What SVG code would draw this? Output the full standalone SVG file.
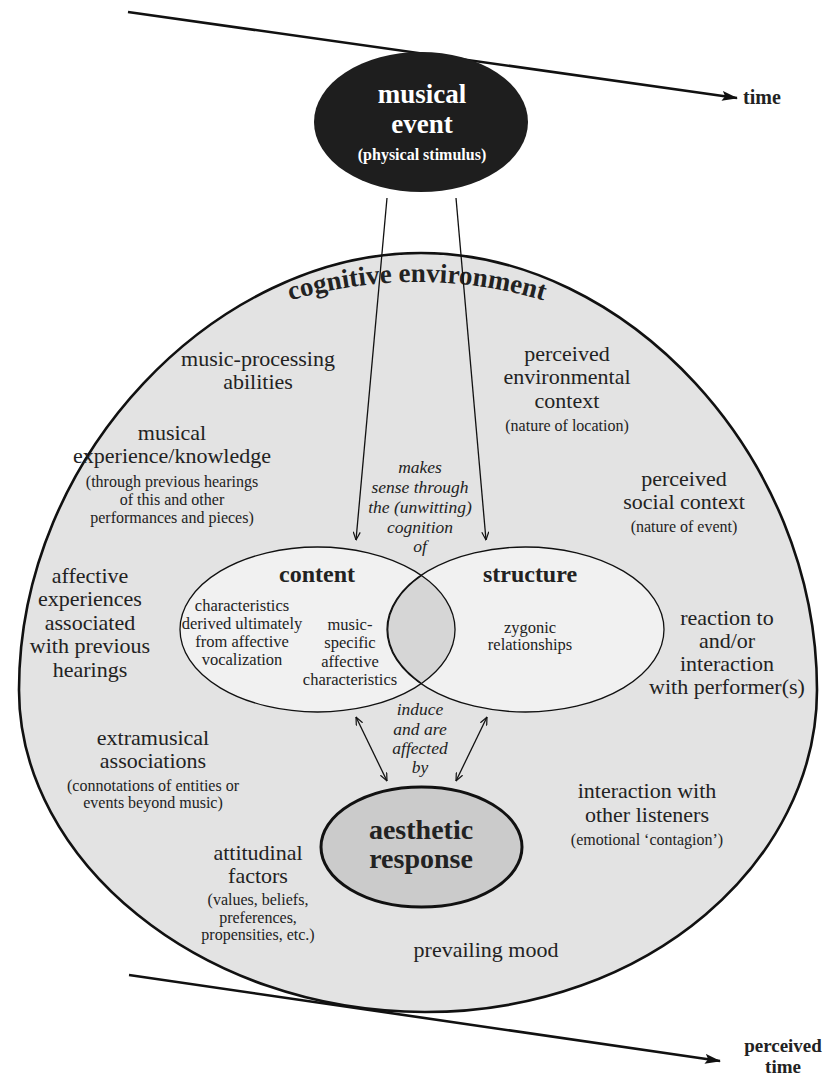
<svg xmlns="http://www.w3.org/2000/svg" width="831" height="1080" viewBox="0 0 831 1080">
<style>
  text { font-family: "Liberation Serif", "Times New Roman", serif; fill: #222; text-anchor: middle; }
  .lab { font-size: 22px; }
  .sub { font-size: 16px; }
  .it { font-size: 17.5px; font-style: italic; }
  .inner { font-size: 16.5px; }
  .b { font-weight: bold; }
  .thin { stroke: #111; stroke-width: 1.3; fill: none; }
  .thick { stroke: #111; stroke-width: 2.6; fill: none; }
</style>
<defs>
  <marker id="bigArrow" markerUnits="userSpaceOnUse" viewBox="0 0 16 10" refX="15" refY="5" markerWidth="16" markerHeight="10" orient="auto">
    <path d="M0,0 L16,5 L0,10 L3,5 Z" fill="#111"/>
  </marker>
  <marker id="smallArrow" markerUnits="userSpaceOnUse" viewBox="0 0 9 8" refX="8.5" refY="4" markerWidth="9" markerHeight="8" orient="auto-start-reverse">
    <path d="M0.5,0.5 L8.5,4 L0.5,7.5" fill="none" stroke="#111" stroke-width="1.2"/>
  </marker>
  <path id="arcPath" d="M134,385 A440,440 0 0 1 700,385"/>
</defs>

<g id="cognitive-environment">
  <path d="M421,253 C625,253 817,455 817,690 C817,860 650,1012 425,1012 C200,1012 19,860 19,690 C19,455 217,253 421,253 Z" fill="#e3e3e3" stroke="#111" stroke-width="2.6"/>
  <text class="b" font-size="27"><textPath href="#arcPath" startOffset="50%">cognitive environment</textPath></text>
</g>

<g id="timelines">
  <line class="thick" x1="128" y1="12" x2="737" y2="98" marker-end="url(#bigArrow)"/>
  <line class="thick" x1="129" y1="975" x2="720" y2="1061" marker-end="url(#bigArrow)"/>
  <text class="b" font-size="20" x="762" y="104">time</text>
  <text class="b" font-size="19" x="783" y="1052">perceived</text>
  <text class="b" font-size="19" x="783" y="1073">time</text>
</g>

<g id="musical-event">
  <ellipse cx="421" cy="122" rx="107" ry="70" fill="#1e1e1e"/>
  <text class="b" font-size="27" x="422" y="103" style="fill:#fff">musical</text>
  <text class="b" font-size="27" x="422" y="133" style="fill:#fff">event</text>
  <text class="b" font-size="16" x="422" y="160" style="fill:#fff">(physical stimulus)</text>
</g>

<g id="venn">
  <ellipse cx="317.5" cy="629.5" rx="137.5" ry="82.5" fill="#f1f1f1" stroke="#111" stroke-width="1.3"/>
  <ellipse cx="525.5" cy="629.5" rx="138.5" ry="82.5" fill="#f1f1f1" stroke="#111" stroke-width="1.3"/>
  <path d="M421.5,575.5 A137.5,82.5 0 0 1 421.5,683.5 A138.5,82.5 0 0 1 421.5,575.5 Z" fill="#d6d6d6" stroke="#111" stroke-width="1.3"/>
</g>

<g id="content">
  <text class="b" font-size="24" x="317" y="582">content</text>
  <text class="inner" x="242" y="611">characteristics</text>
  <text class="inner" x="242" y="629">derived ultimately</text>
  <text class="inner" x="242" y="647">from affective</text>
  <text class="inner" x="242" y="665">vocalization</text>
  <text class="inner" x="350" y="630">music-</text>
  <text class="inner" x="350" y="648">specific</text>
  <text class="inner" x="350" y="667">affective</text>
  <text class="inner" x="350" y="685">characteristics</text>
</g>

<g id="structure">
  <text class="b" font-size="24" x="530" y="582">structure</text>
  <text class="inner" x="530" y="633">zygonic</text>
  <text class="inner" x="530" y="650">relationships</text>
</g>

<g id="aesthetic-response">
  <ellipse cx="421.5" cy="847" rx="100.5" ry="60" fill="#cbcbcb" stroke="#111" stroke-width="3"/>
  <text class="b" font-size="28" x="421" y="839">aesthetic</text>
  <text class="b" font-size="28" x="421" y="868">response</text>
</g>

<g id="connectors">
  <line class="thin" x1="387" y1="198" x2="356" y2="540" marker-end="url(#smallArrow)"/>
  <line class="thin" x1="456" y1="198" x2="486" y2="540" marker-end="url(#smallArrow)"/>
  <line class="thin" x1="356" y1="717" x2="387" y2="781" marker-start="url(#smallArrow)" marker-end="url(#smallArrow)"/>
  <line class="thin" x1="487" y1="717" x2="456" y2="781" marker-start="url(#smallArrow)" marker-end="url(#smallArrow)"/>
</g>

<g id="connector-labels">
  <text class="it" x="420" y="473">makes</text>
  <text class="it" x="420" y="493">sense through</text>
  <text class="it" x="420" y="513">the (unwitting)</text>
  <text class="it" x="420" y="533">cognition</text>
  <text class="it" x="420" y="552">of</text>
  <text class="it" x="420" y="715">induce</text>
  <text class="it" x="420" y="735">and are</text>
  <text class="it" x="420" y="754">affected</text>
  <text class="it" x="420" y="773">by</text>
</g>

<g id="music-processing">
  <text class="lab" x="258" y="366">music-processing</text>
  <text class="lab" x="258" y="389">abilities</text>
</g>

<g id="musical-experience">
  <text class="lab" x="172" y="440">musical</text>
  <text class="lab" x="172" y="463">experience/knowledge</text>
  <text class="sub" x="172" y="487">(through previous hearings</text>
  <text class="sub" x="172" y="505">of this and other</text>
  <text class="sub" x="172" y="523">performances and pieces)</text>
</g>

<g id="affective-experiences">
  <text class="lab" x="90" y="583">affective</text>
  <text class="lab" x="90" y="606">experiences</text>
  <text class="lab" x="90" y="630">associated</text>
  <text class="lab" x="90" y="653">with previous</text>
  <text class="lab" x="90" y="677">hearings</text>
</g>

<g id="extramusical">
  <text class="lab" x="153" y="745">extramusical</text>
  <text class="lab" x="153" y="768">associations</text>
  <text class="sub" x="153" y="791">(connotations of entities or</text>
  <text class="sub" x="153" y="808">events beyond music)</text>
</g>

<g id="attitudinal">
  <text class="lab" x="258" y="860">attitudinal</text>
  <text class="lab" x="258" y="883">factors</text>
  <text class="sub" x="258" y="905">(values, beliefs,</text>
  <text class="sub" x="258" y="923">preferences,</text>
  <text class="sub" x="258" y="940">propensities, etc.)</text>
</g>

<g id="prevailing-mood">
  <text class="lab" x="486" y="957">prevailing mood</text>
</g>

<g id="environmental-context">
  <text class="lab" x="567" y="361">perceived</text>
  <text class="lab" x="567" y="384">environmental</text>
  <text class="lab" x="567" y="408">context</text>
  <text class="sub" x="567" y="431">(nature of location)</text>
</g>

<g id="social-context">
  <text class="lab" x="684" y="486">perceived</text>
  <text class="lab" x="684" y="509">social context</text>
  <text class="sub" x="684" y="532">(nature of event)</text>
</g>

<g id="performer-interaction">
  <text class="lab" x="727" y="625">reaction to</text>
  <text class="lab" x="727" y="648">and/or</text>
  <text class="lab" x="727" y="671">interaction</text>
  <text class="lab" x="727" y="694">with performer(s)</text>
</g>

<g id="listeners-interaction">
  <text class="lab" x="647" y="798">interaction with</text>
  <text class="lab" x="647" y="822">other listeners</text>
  <text class="sub" x="647" y="845">(emotional ‘contagion’)</text>
</g>
</svg>
